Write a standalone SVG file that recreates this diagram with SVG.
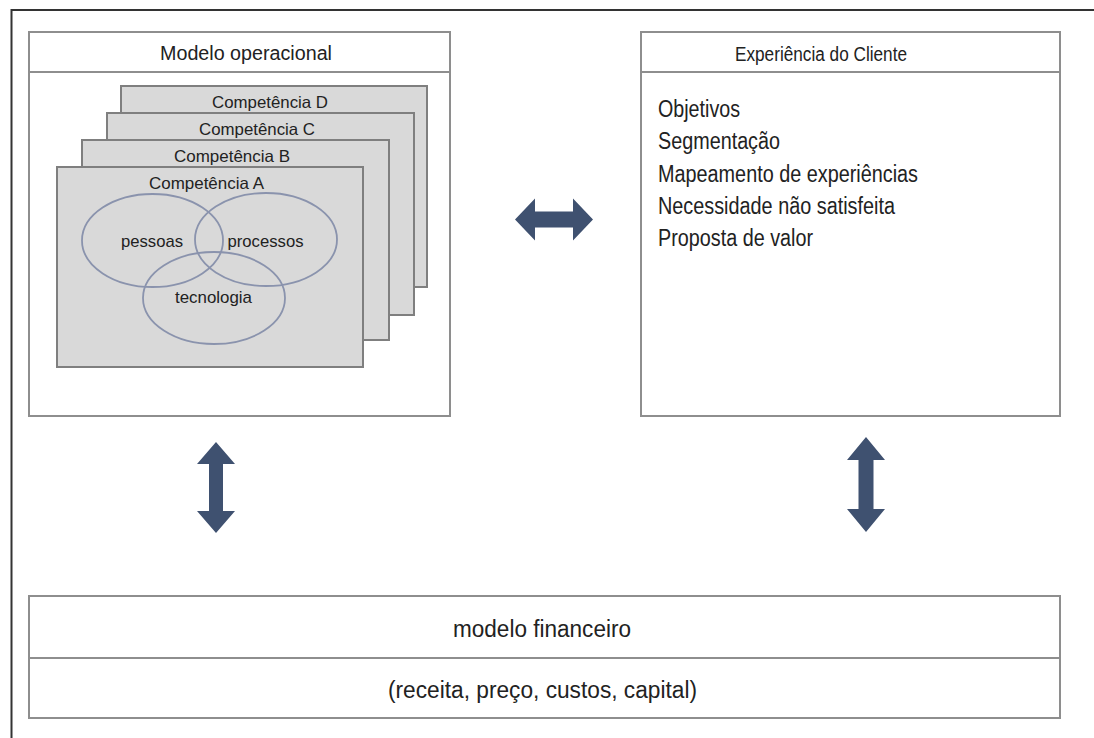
<svg xmlns="http://www.w3.org/2000/svg" width="1094" height="738" viewBox="0 0 1094 738">
  <style>
    text { font-family: "Liberation Sans", Arial, sans-serif; fill: #222; }
    .box { fill: #fff; stroke: #8e8e8e; stroke-width: 2; }
    .div { stroke: #8e8e8e; stroke-width: 2; fill: none; }
    .comp { fill: #d9d9d9; stroke: #7f7f7f; stroke-width: 2; }
    .ell { fill: none; stroke: #8a93ad; stroke-width: 1.8; }
    .arrow { fill: #3f5170; }
    .hdr { font-size: 20px; text-anchor: middle; }
    .ctext { font-size: 16.5px; text-anchor: middle; }
    .vtext { font-size: 17px; text-anchor: middle; }
    .list { font-size: 23px; }
    .fin { font-size: 23px; text-anchor: middle; }
  </style>
  <rect width="1094" height="738" fill="#fff"/>
  <g id="frame">
    <path d="M11.5 738 V10 H1094" fill="none" stroke="#333" stroke-width="2"/>
  </g>
  <g id="modelo-operacional">
    <rect class="box" x="29" y="32" width="421" height="384"/>
    <line class="div" x1="29" y1="72" x2="450" y2="72"/>
    <text class="hdr" x="246" y="60" textLength="172" lengthAdjust="spacingAndGlyphs">Modelo operacional</text>
    <g id="competencia-d">
      <rect class="comp" x="121" y="86" width="306" height="201"/>
      <text class="ctext" x="270" y="108" textLength="116" lengthAdjust="spacingAndGlyphs">Competência D</text>
    </g>
    <g id="competencia-c">
      <rect class="comp" x="107" y="113" width="307" height="202"/>
      <text class="ctext" x="257" y="135" textLength="116" lengthAdjust="spacingAndGlyphs">Competência C</text>
    </g>
    <g id="competencia-b">
      <rect class="comp" x="82" y="140" width="307" height="200"/>
      <text class="ctext" x="232" y="162" textLength="116" lengthAdjust="spacingAndGlyphs">Competência B</text>
    </g>
    <g id="competencia-a">
      <rect class="comp" x="57" y="167" width="306" height="200"/>
      <text class="ctext" x="206.5" y="189" textLength="115" lengthAdjust="spacingAndGlyphs">Competência A</text>
      <ellipse class="ell" cx="152.5" cy="240.5" rx="70.5" ry="46.5"/>
      <ellipse class="ell" cx="266" cy="239.5" rx="71" ry="46.5"/>
      <ellipse class="ell" cx="214" cy="298" rx="71" ry="46"/>
      <text class="vtext" x="152" y="247" textLength="62" lengthAdjust="spacingAndGlyphs">pessoas</text>
      <text class="vtext" x="265.5" y="247" textLength="76" lengthAdjust="spacingAndGlyphs">processos</text>
      <text class="vtext" x="213.5" y="303" textLength="77" lengthAdjust="spacingAndGlyphs">tecnologia</text>
    </g>
  </g>
  <g id="experiencia-cliente">
    <rect class="box" x="641" y="32" width="419" height="384"/>
    <line class="div" x1="641" y1="72" x2="1060" y2="72"/>
    <text class="hdr" x="821" y="61" textLength="172" lengthAdjust="spacingAndGlyphs">Experiência do Cliente</text>
    <text class="list" x="658" y="117" textLength="82" lengthAdjust="spacingAndGlyphs">Objetivos</text>
    <text class="list" x="658" y="149" textLength="122" lengthAdjust="spacingAndGlyphs">Segmentação</text>
    <text class="list" x="658" y="181.5" textLength="260" lengthAdjust="spacingAndGlyphs">Mapeamento de experiências</text>
    <text class="list" x="658" y="213.5" textLength="237" lengthAdjust="spacingAndGlyphs">Necessidade não satisfeita</text>
    <text class="list" x="658" y="246" textLength="155" lengthAdjust="spacingAndGlyphs">Proposta de valor</text>
  </g>
  <g id="modelo-financeiro">
    <rect class="box" x="29" y="596" width="1031" height="122"/>
    <line class="div" x1="29" y1="658" x2="1060" y2="658"/>
    <text class="fin" x="542" y="637" textLength="178" lengthAdjust="spacingAndGlyphs">modelo financeiro</text>
    <text class="fin" x="542.5" y="698" textLength="309" lengthAdjust="spacingAndGlyphs">(receita, preço, custos, capital)</text>
  </g>
  <g id="connectors">
    <polygon class="arrow" points="515,219.5 535,198.5 535,211.5 573,211.5 573,198.5 593,219.5 573,240.5 573,227.5 535,227.5 535,240.5"/>
    <polygon class="arrow" points="216,442 235,464 223,464 223,511 235,511 216,533 197,511 209,511 209,464 197,464"/>
    <polygon class="arrow" points="866,437 885,460 873.5,460 873.5,509 885,509 866,532 847,509 858.5,509 858.5,460 847,460"/>
  </g>
</svg>
